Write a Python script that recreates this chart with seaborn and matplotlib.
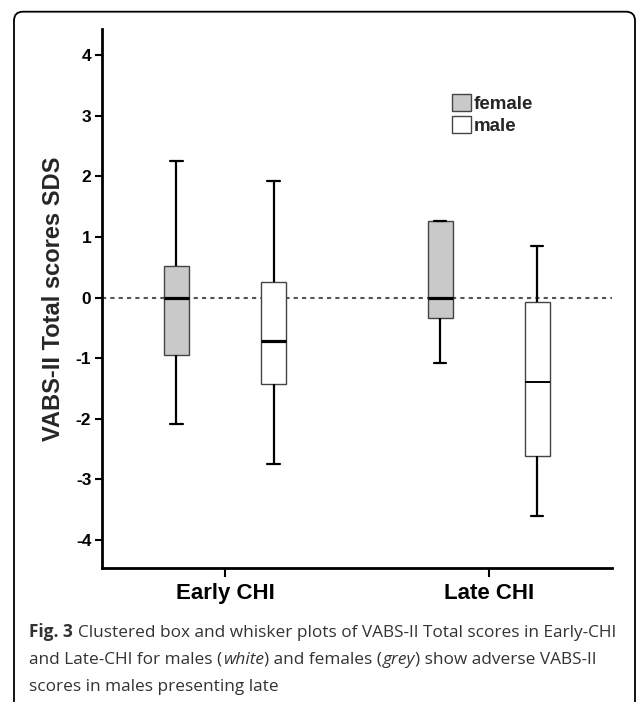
import numpy as np
import pandas as pd
import matplotlib
matplotlib.use("Agg")
import matplotlib.pyplot as plt
import seaborn as sns
from matplotlib.patches import FancyBboxPatch
from matplotlib.transforms import IdentityTransform

# five-number summaries (min, Q1, median, Q3, max)
groups = ["Early CHI", "Late CHI"]
sexes = ["female", "male"]
early_female = [-2.08, -0.94, 0.00, 0.52, 2.26]
early_male = [-2.75, -1.42, -0.72, 0.26, 1.93]
late_female = [-1.08, -0.33, 0.00, 1.26, 1.26]
late_male = [-3.61, -2.61, -1.40, -0.08, 0.86]
y_ticks = [-4, -3, -2, -1, 0, 1, 2, 3, 4]

rows = []
for grp, sex, vals in [(groups[0], sexes[0], early_female), (groups[0], sexes[1], early_male),
                       (groups[1], sexes[0], late_female), (groups[1], sexes[1], late_male)]:
    for v in vals:
        rows.append({"group": grp, "sex": sex, "score": v})
df = pd.DataFrame(rows)

sns.set_theme(style="ticks")
plt.rcParams['font.family'] = ['Liberation Sans', 'DejaVu Sans']

W, H = 636, 702
fig = plt.figure(figsize=(W / 100, H / 100), dpi=100)
ax = fig.add_axes([101.7 / W, 1 - 567.5 / H, 510 / W, 538.2 / H])

ax.axhline(0, color='#555555', lw=1.5, ls=(0, (2, 2)), zorder=0)

sns.boxplot(data=df, x="group", y="score", hue="sex", hue_order=sexes, order=groups,
            palette={"female": "#c9c9c9", "male": "white"}, width=0.736, gap=0.742,
            whis=(0, 100), linecolor="#444444", linewidth=1.0,
            whiskerprops=dict(color="black", linewidth=1.6),
            capprops=dict(color="black", linewidth=1.6),
            medianprops=dict(color="black", linewidth=2.3),
            ax=ax)

# the late-male median is drawn thinner in the original
for ln in ax.lines:
    yd = np.asarray(ln.get_ydata(), dtype=float)
    if len(yd) == 2 and np.allclose(yd, late_male[2]):
        ln.set_linewidth(1.4)

ax.set_xlim(-0.4676, 1.4664)
ax.set_ylim(-4.455, 4.43)
ax.set_yticks(y_ticks)
ax.set_yticklabels([str(t) for t in y_ticks], fontsize=12.5, fontweight='bold')
ax.set_xticklabels(groups, fontsize=16, fontweight='bold')
ax.set_xlabel("")
ax.set_ylabel("VABS-II Total scores SDS", fontsize=17, fontweight='bold', labelpad=8)
sns.despine(ax=ax)
for s in ["left", "bottom"]:
    ax.spines[s].set_linewidth(2.0)
    ax.spines[s].set_color("black")
ax.tick_params(axis='y', length=5, width=1.5, pad=2.5, colors='black')
ax.tick_params(axis='x', length=6.5, width=1.5, pad=5, colors='black')

sns.move_legend(ax, "upper left", bbox_to_anchor=(0.687, 0.88), frameon=False, title=None,
                prop=dict(weight='bold', size=13.5), handlelength=1.0, handleheight=1.05,
                handletextpad=0.15, labelspacing=0.15, borderpad=0, borderaxespad=0)

# rounded panel frame
frame = FancyBboxPatch((14, -30), 621, H - 11.7 + 30, boxstyle="round,pad=0,rounding_size=9",
                       transform=IdentityTransform(), fill=False, edgecolor="black", lw=1.3)
fig.add_artist(frame)

# caption with mixed styles
cap_font = ['Open Sans', 'DejaVu Sans']
lines = [
    (637, [("Fig. 3", "bold", "normal"),
           ("Clustered box and whisker plots of VABS-II Total scores in Early-CHI", "normal", "normal")]),
    (664, [("and Late-CHI for males (", "normal", "normal"), ("white", "normal", "italic"),
           (") and females (", "normal", "normal"), ("grey", "normal", "italic"),
           (") show adverse VABS-II", "normal", "normal")]),
    (691, [("scores in males presenting late", "normal", "normal")]),
]
renderer = fig.canvas.get_renderer()
for ybase, pieces in lines:
    x = 29
    prev = None
    for txt, weight, style in pieces:
        if prev is not None and (txt[0] not in ")" and not prev.endswith("(")):
            x += 4.5
        t = fig.text(x / W, 1 - ybase / H, txt, fontsize=12.4, family=cap_font, fontweight=weight,
                     fontstyle=style, color="#333333", va='baseline', ha='left')
        bb = t.get_window_extent(renderer)
        x = bb.x1 + 0.5
        prev = txt

fig.savefig("out.png", dpi=100)
